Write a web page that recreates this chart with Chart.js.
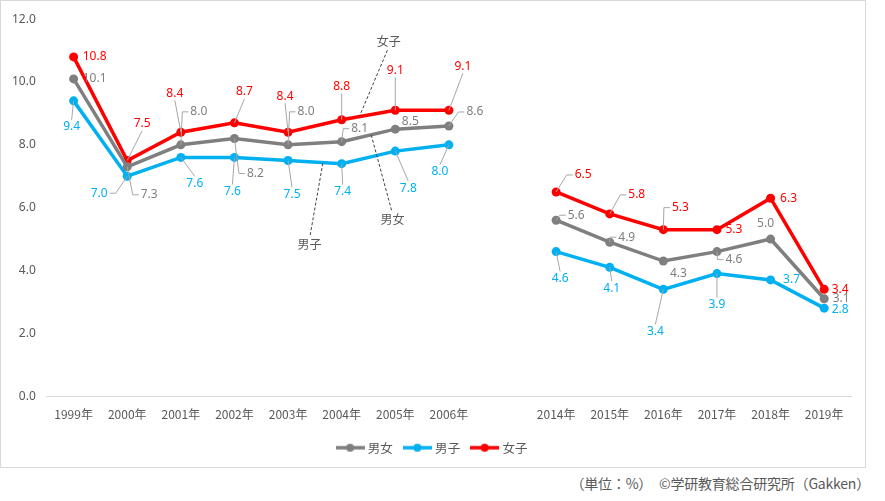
<!DOCTYPE html>
<html>
<head>
<meta charset="utf-8">
<script src="https://cdn.jsdelivr.net/npm/chart.js@4"></script>
<style>
body { margin: 0; background: #fff; font-family: "Noto Sans CJK JP", sans-serif; }
#box { position: absolute; left: 0; top: 0; width: 864px; height: 466px; border: 1px solid #d9d9d9; }
#note { position: absolute; left: 0; width: 870px; text-align: right; top: 473px; font-size: 14px; color: #595959; letter-spacing: -0.2px; }
</style>
</head>
<body>
<div id="box"><canvas id="chart-area"></canvas></div>
<div id="note">（単位：%）　©学研教育総合研究所（Gakken）</div>
<script>
// data
var years = ['1999年', '2000年', '2001年', '2002年', '2003年', '2004年', '2005年', '2006年', '',
             '2014年', '2015年', '2016年', '2017年', '2018年', '2019年'];
var seriesNames = ['男女', '男子', '女子'];
var allData  = [10.1, 7.3, 8.0, 8.2, 8.0, 8.1, 8.5, 8.6, null, 5.6, 4.9, 4.3, 4.6, 5.0, 3.1];
var boysData = [9.4, 7.0, 7.6, 7.6, 7.5, 7.4, 7.8, 8.0, null, 4.6, 4.1, 3.4, 3.9, 3.7, 2.8];
var girlsData = [10.8, 7.5, 8.4, 8.7, 8.4, 8.8, 9.1, 9.1, null, 6.5, 5.8, 5.3, 5.3, 6.3, 3.4];
var yTicks = [0, 2, 4, 6, 8, 10, 12];

var colors = ['#7f7f7f', '#00b0f0', '#ff0000'];
var textColors = ['#7f7f7f', '#00b0f0', '#ff0000'];

// label offsets [dx, dy, leader] ; leader 1 = to top/bottom, 2 = side stub
var labelOffsets = [
    [[21,0,0],[22,28,2],[18,-33,2],[21,35,2],[18,-33,2],[18,-13,2],[15,-8,0],[26,-14,2],null,
     [20,-5,2],[17,-5,2],[15,13,0],[17,8,2],[-5,-15,0],[17,0,0]],
    [[-2,26,1],[-28,17,2],[14,26,1],[-2,34,1],[4,34,1],[1,28,1],[13,37,1],[-9,27,1],null,
     [4,27,1],[2,21,1],[-8,42,1],[0,31,1],[21,0,0],[16,1,0]],
    [[21,0,0],[15,-37,1],[-6,-39,1],[10,-31,1],[-3,-36,1],[0,-33,1],[0,-40,1],[14,-44,1],null,
     [27,-17,2],[27,-19,2],[17,-22,2],[17,0,0],[18,0,0],[16,0,0]]
];

// series name callouts: [text index, text value, target index, dataset]
var callouts = [
    [5.88, 11.3, 5.33, 2],
    [5.95, 5.63, 5.55, 0],
    [4.4, 4.84, 4.65, 1]
];

function markerImage(color) {
    var c = document.createElement('canvas');
    c.width = 29; c.height = 10;
    var g = c.getContext('2d');
    g.strokeStyle = color; g.lineWidth = 3.5;
    g.beginPath(); g.moveTo(0, 5); g.lineTo(29, 5); g.stroke();
    g.fillStyle = color;
    g.beginPath(); g.arc(14.5, 5, 4, 0, Math.PI * 2); g.fill();
    return c;
}

var labelPlugin = {
    id: 'valueLabels',
    afterDatasetsDraw: function(chart) {
        var ctx = chart.ctx;
        ctx.save();
        ctx.font = '12px "Noto Sans", sans-serif';
        ctx.textAlign = 'center';
        ctx.textBaseline = 'middle';
        chart.data.datasets.forEach(function(ds, di) {
            var meta = chart.getDatasetMeta(di);
            ds.data.forEach(function(v, i) {
                if (v === null) return;
                var p = meta.data[i];
                var o = labelOffsets[di][i];
                var lx = p.x + o[0], ly = p.y + o[1];
                var txt = v.toFixed(1);
                var w = ctx.measureText(txt).width, h = 12;
                if (o[2]) {
                    ctx.strokeStyle = '#a6a6a6';
                    ctx.lineWidth = 1;
                    ctx.beginPath();
                    ctx.moveTo(p.x, p.y);
                    if (o[2] == 2) {
                        var side = o[0] > 0 ? -1 : 1;
                        var ex = lx + side * (w / 2 + 2);
                        ctx.lineTo(ex + side * 6, ly);
                        ctx.lineTo(ex, ly);
                    } else {
                        var ey = o[1] > 0 ? ly - h / 2 - 1 : ly + h / 2 + 1;
                        ctx.lineTo(lx, ey);
                    }
                    ctx.stroke();
                }
                ctx.fillStyle = textColors[di];
                ctx.fillText(txt, lx, ly);
            });
        });

        // series name callouts
        var xs = chart.scales.x, ys = chart.scales.y;
        ctx.font = '12px "Noto Sans CJK JP", sans-serif';
        ctx.fillStyle = '#595959';
        callouts.forEach(function(c) {
            var data = chart.data.datasets[c[3]].data;
            var i0 = Math.floor(c[2]), f = c[2] - i0;
            var val = data[i0] + (data[i0 + 1] - data[i0]) * f;
            var tx = xs.getPixelForValue(c[0]), ty = ys.getPixelForValue(c[1]);
            var px = xs.getPixelForValue(c[2]), py = ys.getPixelForValue(val);
            var sy = py < ty ? ty - 9 : ty + 9;
            ctx.strokeStyle = '#404040';
            ctx.lineWidth = 1;
            ctx.setLineDash([3, 2]);
            ctx.beginPath();
            ctx.moveTo(tx - (tx - px) * 0.05, sy);
            ctx.lineTo(px, py);
            ctx.stroke();
            ctx.setLineDash([]);
            ctx.fillText(seriesNames[c[3]], tx, ty);
        });
        ctx.restore();
    }
};

var config = {
    type: 'line',
    data: {
        labels: years,
        datasets: [
            { label: seriesNames[0], data: allData },
            { label: seriesNames[1], data: boysData },
            { label: seriesNames[2], data: girlsData }
        ].map(function(d, i) {
            d.borderColor = colors[i];
            d.backgroundColor = colors[i];
            d.borderWidth = 3.5;
            d.pointRadius = 4.5;
            d.pointHoverRadius = 4.5;
            d.pointBorderWidth = 0;
            d.tension = 0;
            d.spanGaps = false;
            d.pointStyle = 'circle';
            return d;
        })
    },
    options: {
        responsive: true,
        maintainAspectRatio: false,
        animation: false,
        layout: { padding: { left: 0, right: 0, top: 8, bottom: 3 } },
        scales: {
            x: {
                offset: true,
                afterFit: function(axis) { axis.height -= 4; },
                grid: { display: false, drawTicks: false },
                border: { color: '#d9d9d9', width: 1 },
                ticks: {
                    color: '#595959', padding: 11, maxRotation: 0, autoSkip: false,
                    font: { size: 12, family: '"Noto Sans CJK JP", sans-serif' }
                }
            },
            y: {
                min: 0, max: 12,
                afterBuildTicks: function(axis) {
                    axis.ticks = yTicks.map(function(v) { return { value: v }; });
                },
                grid: { display: false, drawTicks: false },
                border: { display: false },
                ticks: {
                    color: '#595959', padding: 11,
                    font: { size: 12, family: '"Noto Sans", sans-serif' },
                    callback: function(v) { return Number(v).toFixed(1); }
                }
            },
            // empty right-hand spacer so the legend stays centred on the full box
            y2: {
                position: 'right',
                afterFit: function(axis) { axis.width = 14; },
                grid: { display: false, drawTicks: false },
                border: { display: false },
                ticks: { display: false }
            }
        },
        plugins: {
            tooltip: { enabled: false },
            legend: {
                position: 'bottom',
                labels: {
                    usePointStyle: true,
                    pointStyleWidth: 23,
                    color: '#595959',
                    padding: 13,
                    font: { size: 12.5, family: '"Noto Sans CJK JP", sans-serif' },
                    generateLabels: function(chart) {
                        return chart.data.datasets.map(function(d, i) {
                            return {
                                text: d.label,
                                pointStyle: markerImage(colors[i]),
                                fontColor: '#595959',
                                datasetIndex: i,
                                lineWidth: 0,
                                strokeStyle: colors[i],
                                fillStyle: colors[i]
                            };
                        });
                    }
                }
            }
        }
    },
    plugins: [labelPlugin]
};

window.onload = function() {
    var ctx = document.getElementById('chart-area').getContext('2d');
    window.myLine = new Chart(ctx, config);
};
</script>
</body>
</html>
